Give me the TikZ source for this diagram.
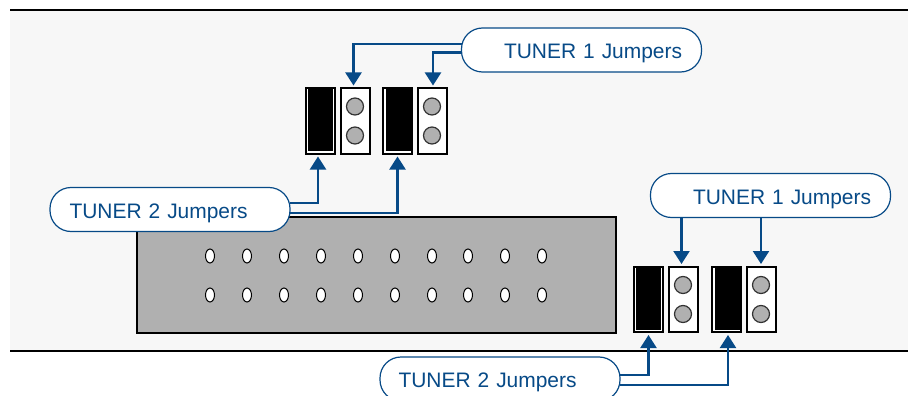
\documentclass[tikz,border=0pt]{standalone}
\usepackage{fontspec}
\setmainfont{Liberation Sans}
\usetikzlibrary{arrows.meta,shapes.geometric}
\definecolor{wireblue}{HTML}{074A87}
\definecolor{panelgrey}{HTML}{F7F7F7}
\definecolor{chipgrey}{HTML}{B0B0B0}
\tikzset{
  chipbox/.style={draw, line width=2, fill=chipgrey, inner sep=0, minimum width=479, minimum height=116},
  hole/.style={draw, line width=1, fill=white, ellipse, inner sep=0, minimum width=9, minimum height=14},
  jumperoff/.style={draw, line width=2, fill=white, inner sep=0, minimum width=29, minimum height=65},
  jumperon/.style={jumperoff},
  jumperfill/.style={fill=black, inner sep=0, minimum width=25, minimum height=62},
  jumperpin/.style={draw=black!80, line width=1.2, fill=chipgrey, circle, inner sep=0, minimum size=17},
  tunerpill/.style={draw=wireblue, line width=1.2, fill=white, rounded corners=21, inner xsep=0, inner ysep=0,
    minimum width=240, minimum height=44, text width=240, align=left, text=wireblue, text height=21, text depth=4,
    font=\fontsize{20.95}{22}\selectfont},
  wire/.style={draw=wireblue, line width=2.2},
  wirearrow/.style={wire, -{Triangle[width=16,length=13]}, shorten >=2}
}
\begin{document}
\begin{tikzpicture}[x=1pt, y=-1pt, node distance=34.5]
  \useasboundingbox (0,0) rectangle (908,396);
  \clip (0,0) rectangle (908,396);
  \fill[panelgrey] (10,10) rectangle (908,351);
  \coordinate (topl) at (10,10);
  \coordinate (topr) at (908,10);
  \coordinate (botl) at (10,351);
  \coordinate (botr) at (908,351);
  \draw[line width=1.6] (topl) -- (topr);
  \draw[line width=1.6] (botl) -- (botr);
  \node[chipbox] (chip) at (376,274.5) {};
  \foreach \x in {210,247,284,321,358,395,432,468,505,542} {
    \node[hole] (holea\x) at (\x,256) {};
    \node[hole] (holeb\x) at (\x,295) {};
  }
  % upper jumpers
  \node[jumperon] (blacka) at (320.5,121) {};
  \node[jumperoff, right of=blacka] (whitea) {};
  \node[jumperon] (blackb) at (397.5,121) {};
  \node[jumperoff, right of=blackb] (whiteb) {};
  % lower jumpers
  \node[jumperon] (blackc) at (648.5,299.5) {};
  \node[jumperoff, right of=blackc] (whitec) {};
  \node[jumperon] (blackd) at (726.5,299.5) {};
  \node[jumperoff, right of=blackd] (whited) {};
  \node[jumperfill] (filla) at (320,120) {};
  \node[jumperfill] (fillb) at (398.5,120) {};
  \node[jumperfill] (fillc) at (648,298.5) {};
  \node[jumperfill] (filld) at (727.5,298.5) {};
  \foreach \w in {a,b,c,d} {
    \node[jumperpin] (pinup\w) at ([yshift=14.5]white\w.center) {};
    \node[jumperpin] (pindown\w) at ([yshift=-14.5]white\w.center) {};
  }
  \node[tunerpill] (tunera) at (581.5,50) {\hspace*{42.5pt}TUNER 1 Jumpers};
  \node[tunerpill] (tunerb) at (170,209.5) {\hspace*{19.5pt}TUNER 2 Jumpers};
  \node[tunerpill] (tunerc) at (770.5,195.5) {\hspace*{42.5pt}TUNER 1 Jumpers};
  \node[tunerpill] (tunerd) at (500,379) {\hspace*{18.5pt}TUNER 2 Jumpers};
  \draw[wirearrow] ([shift={(0.8,-6)}]tunera.west) -| ([xshift=-1.5]whitea.north);
  \draw[wirearrow] ([shift={(0.2,2.5)}]tunera.west) -| ([xshift=1]whiteb.north);
  \draw[wirearrow] ([shift={(-0.8,-6.5)}]tunerb.east) -| ([xshift=-2.5]blacka.south);
  \draw[wirearrow] ([shift={(-0.2,3.5)}]tunerb.east) -| (blackb.south);
  \draw[wirearrow] ([xshift=-1.5]whitec.north |- tunerc.south) -- ([xshift=-1.5]whitec.north);
  \draw[wirearrow] (whited.north |- tunerc.south) -- (whited.north);
  \draw[wirearrow] ([shift={(-0.2,-4)}]tunerd.east) -| (blackc.south);
  \draw[wirearrow] ([shift={(-1,6)}]tunerd.east) -| ([xshift=1.5]blackd.south);
\end{tikzpicture}
\end{document}
